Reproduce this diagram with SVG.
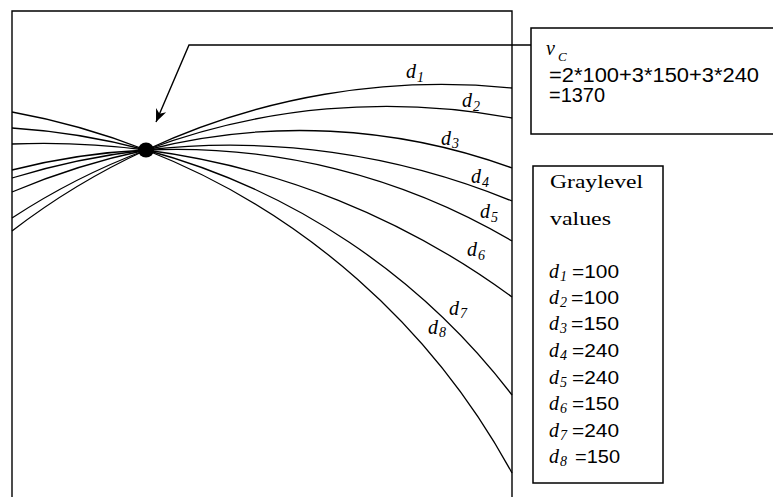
<svg xmlns="http://www.w3.org/2000/svg" width="773" height="497" viewBox="0 0 773 497">
<style>
.ln{fill:none;stroke:#000;stroke-width:1.4}
.cv{fill:none;stroke:#000;stroke-width:1.3}
.box{fill:#fff;stroke:#000;stroke-width:1.5}
.it{font-family:"Liberation Serif","Times New Roman",serif;font-style:italic;font-size:20px;fill:#000}
.sb{font-family:"Liberation Serif","Times New Roman",serif;font-style:italic;font-size:14px;fill:#000}
.sf{font-family:"Liberation Serif","Times New Roman",serif;font-size:18px;fill:#000}
.ss{font-family:"Liberation Sans",Arial,sans-serif;font-size:18px;fill:#000}
.ss2{font-family:"Liberation Sans",Arial,sans-serif;font-size:20px;fill:#000}
</style>
<defs>
<marker id="arr" viewBox="-14 -7 16 14" refX="0" refY="0" markerWidth="16" markerHeight="14" markerUnits="userSpaceOnUse" orient="auto">
<path d="M0,0 L-13,-5.5 L-9,0 L-13,5.5 Z" fill="#000"/>
</marker>
</defs>
<rect width="773" height="497" fill="#fff"/>
<g id="frame">
<path class="ln" d="M12,497 V11 H512 V497"/>
</g>
<g id="curves">
<path id="c1" class="cv" d="M12,231 A699,699 0 0 1 146,150 A699,699 0 0 1 512,88"/>
<path id="c2" class="cv" d="M12,218 A683,683 0 0 1 146,150 A683,683 0 0 1 512,118"/>
<path id="c3" class="cv" d="M12,192 A724,724 0 0 1 146,150 A618,618 0 0 1 512,168"/>
<path id="c4" class="cv" d="M12,178 A741,741 0 0 1 146,150 A741,741 0 0 1 512,201"/>
<path id="c5" class="cv" d="M12,170 A661,661 0 0 1 146,150 A661,661 0 0 1 512,241"/>
<path id="c6" class="cv" d="M12,144 A790,790 0 0 1 146,150 A790,790 0 0 1 512,297"/>
<path id="c7" class="cv" d="M12,128 A684,684 0 0 1 146,150 A684,684 0 0 1 512,395"/>
<path id="c8" class="cv" d="M12,112 A714,714 0 0 1 146,150 A714,714 0 0 1 512,473"/>
</g>
<g id="point">
<ellipse cx="146" cy="150" rx="8" ry="7.5" fill="#000"/>
</g>
<g id="labels">
<text class="it" x="406" y="78">d</text><text class="sb" x="417" y="82">1</text>
<text class="it" x="462" y="107">d</text><text class="sb" x="473" y="111">2</text>
<text class="it" x="441" y="145">d</text><text class="sb" x="452" y="148">3</text>
<text class="it" x="471" y="183">d</text><text class="sb" x="482" y="187">4</text>
<text class="it" x="480" y="218">d</text><text class="sb" x="491" y="222">5</text>
<text class="it" x="467" y="256">d</text><text class="sb" x="478" y="260">6</text>
<text class="it" x="449" y="315">d</text><text class="sb" x="460" y="318">7</text>
<text class="it" x="428" y="334">d</text><text class="sb" x="439" y="337">8</text>
</g>
<g id="connectors">
<path class="ln" d="M531,45 H189 L156,122" marker-end="url(#arr)"/>
</g>
<g id="vc-box">
<rect class="box" x="531" y="28" width="250" height="106"/>
<text class="it" x="546" y="55">v</text><text class="sb" x="558" y="61" style="font-size:13px">C</text>
<text class="ss2" x="549" y="82" textLength="210" lengthAdjust="spacingAndGlyphs">=2*100+3*150+3*240</text>
<text class="ss2" x="549" y="102" textLength="56" lengthAdjust="spacingAndGlyphs">=1370</text>
</g>
<g id="gray-box">
<rect class="box" x="533" y="166" width="130" height="317"/>
<text class="sf" x="550" y="188" textLength="93" lengthAdjust="spacingAndGlyphs">Graylevel</text>
<text class="sf" x="550" y="225" textLength="61" lengthAdjust="spacingAndGlyphs">values</text>
<text class="it" x="549" y="278">d</text><text class="sb" x="560" y="281">1</text><text class="ss" x="572" y="278" textLength="47" lengthAdjust="spacingAndGlyphs">=100</text>
<text class="it" x="549" y="304">d</text><text class="sb" x="560" y="307">2</text><text class="ss" x="571" y="304" textLength="48" lengthAdjust="spacingAndGlyphs">=100</text>
<text class="it" x="549" y="330">d</text><text class="sb" x="560" y="333">3</text><text class="ss" x="571" y="330" textLength="48" lengthAdjust="spacingAndGlyphs">=150</text>
<text class="it" x="549" y="357">d</text><text class="sb" x="560" y="360">4</text><text class="ss" x="572" y="357" textLength="47" lengthAdjust="spacingAndGlyphs">=240</text>
<text class="it" x="549" y="384">d</text><text class="sb" x="560" y="387">5</text><text class="ss" x="572" y="384" textLength="47" lengthAdjust="spacingAndGlyphs">=240</text>
<text class="it" x="549" y="410">d</text><text class="sb" x="560" y="413">6</text><text class="ss" x="572" y="410" textLength="47" lengthAdjust="spacingAndGlyphs">=150</text>
<text class="it" x="549" y="437">d</text><text class="sb" x="560" y="440">7</text><text class="ss" x="572" y="437" textLength="47" lengthAdjust="spacingAndGlyphs">=240</text>
<text class="it" x="549" y="463">d</text><text class="sb" x="560" y="466">8</text><text class="ss" x="575" y="463" textLength="45" lengthAdjust="spacingAndGlyphs">=150</text>
</g>
</svg>
